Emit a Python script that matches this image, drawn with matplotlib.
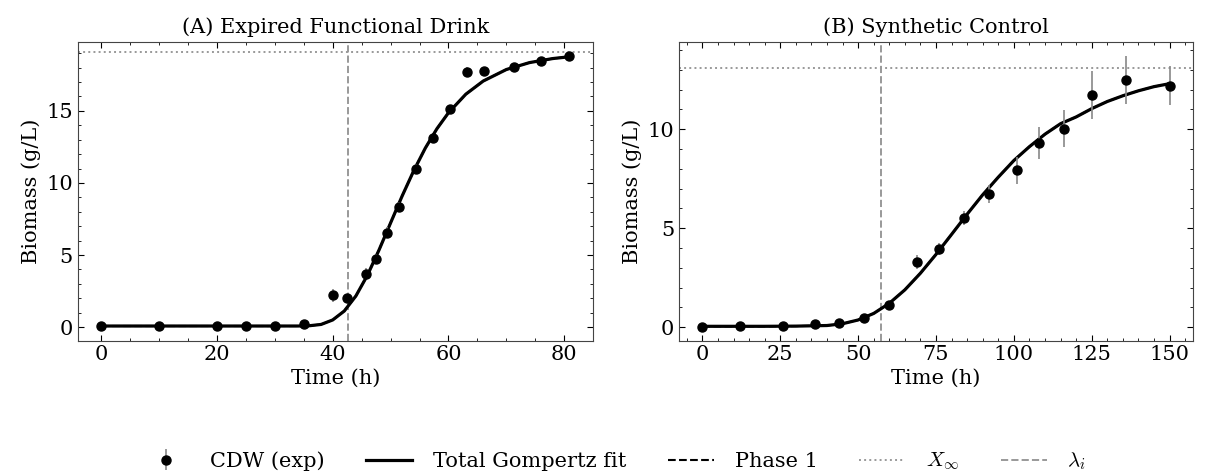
import numpy as np
import matplotlib
matplotlib.use("Agg")
import matplotlib.pyplot as plt
from matplotlib.ticker import MultipleLocator
from matplotlib.lines import Line2D

plt.rcParams['font.family'] = ['DejaVu Serif']
plt.rcParams['mathtext.fontset'] = 'cm'
plt.rcParams['font.size'] = 15

# ---- panel A: expired functional drink ----
a_t = [0, 10, 20, 25, 30, 35, 40, 42.5, 45.7, 47.5, 49.4, 51.4, 54.4, 57.3,
       60.3, 63.2, 66.2, 71.4, 76, 80.9]
a_x = [0.05, 0.05, 0.05, 0.05, 0.05, 0.25, 2.2, 2.0, 3.72, 4.75, 6.55, 8.33,
       11.0, 13.1, 15.15, 17.7, 17.8, 18.03, 18.45, 18.8]
a_err = [0.05, 0.05, 0.05, 0.05, 0.05, 0.15, 0.45, 0.3, 0.35, 0.35, 0.4, 0.35,
         0.3, 0.3, 0.25, 0.35, 0.15, 0.15, 0.15, 0.1]
# fitted curve
a_fit_t = [0, 10, 20, 30, 34, 36, 38, 40, 42, 44, 46, 48, 50, 52, 54, 56, 58,
           60, 63, 66, 70, 74, 78, 81]
a_fit_x = [0.08, 0.08, 0.08, 0.08, 0.08, 0.1, 0.19, 0.5, 1.12, 2.16, 3.6,
           5.35, 7.23, 9.1, 10.85, 12.42, 13.76, 14.87, 16.16, 17.07, 17.87,
           18.35, 18.63, 18.76]
a_xinf = 19.1
a_lag = 42.6

# ---- panel B: synthetic control ----
b_t = [0, 12, 26, 36, 44, 52, 60, 69, 76, 84, 92, 101, 108, 116, 125, 136, 150]
b_x = [0.0, 0.07, 0.07, 0.15, 0.22, 0.49, 1.11, 3.29, 3.97, 5.51, 6.74, 7.92,
       9.31, 10.02, 11.73, 12.49, 12.2]
b_err = [0.05, 0.05, 0.05, 0.05, 0.08, 0.1, 0.12, 0.35, 0.3, 0.34, 0.45, 0.66,
         0.82, 0.94, 1.19, 1.2, 0.98]
b_fit_t = [0, 20, 30, 40, 45, 50, 55, 60, 65, 70, 75, 80, 85, 90, 95, 100,
           105, 110, 115, 120, 125, 130, 135, 140, 145, 150]
b_fit_x = [0.05, 0.05, 0.06, 0.09, 0.18, 0.37, 0.7, 1.21, 1.89, 2.73, 3.68,
           4.69, 5.71, 6.69, 7.58, 8.42, 9.12, 9.75, 10.28, 10.62, 11.04,
           11.4, 11.69, 11.94, 12.15, 12.3]
b_xinf = 13.1
b_lag = 57.3

panels = [
    ("(A) Expired Functional Drink", a_t, a_x, a_err, a_fit_t, a_fit_x, a_xinf, a_lag,
     (-0.93, 19.76), 20, 5),
    ("(B) Synthetic Control", b_t, b_x, b_err, b_fit_t, b_fit_x, b_xinf, b_lag,
     (-0.67, 14.39), 25, 5),
]

fig = plt.figure(figsize=(12.05, 4.75), dpi=100)
boxes = [[0.0645, 0.283, 0.428, 0.628], [0.5635, 0.283, 0.4265, 0.628]]

eb_handle = None
for box, (title, t, x, err, ft, fx, xinf, lag, ylim, xmaj, xmin) in zip(boxes, panels):
    ax = fig.add_axes(box)
    eb = ax.errorbar(t, x, yerr=err, fmt='o', color='black', ecolor='#888888',
                     elinewidth=1.2, markersize=6.5, capsize=0, zorder=3)
    if eb_handle is None:
        eb_handle = eb
    ax.plot(ft, fx, '--', color='black', lw=1.5, zorder=1)   # phase 1 (same as total)
    ax.plot(ft, fx, '-', color='black', lw=2.3, zorder=2)
    ax.axhline(xinf, color='#999999', ls=':', lw=1.4, zorder=0)
    ax.axvline(lag, color='#999999', ls='--', lw=1.4, zorder=0)
    ax.set_ylim(*ylim)
    ax.set_title(title, fontsize=15, pad=7)
    ax.set_xlabel("Time (h)", labelpad=3)
    ax.set_ylabel("Biomass (g/L)")
    ax.xaxis.set_major_locator(MultipleLocator(xmaj))
    ax.xaxis.set_minor_locator(MultipleLocator(xmin))
    ax.yaxis.set_major_locator(MultipleLocator(5))
    ax.yaxis.set_minor_locator(MultipleLocator(1))
    ax.tick_params(which='both', direction='in', top=True, right=True, labelsize=15)
    ax.tick_params(which='major', length=4.5)
    ax.tick_params(which='minor', length=2.3)
    for s in ax.spines.values():
        s.set_color('#444444')

handles = [
    eb_handle,
    Line2D([], [], color='black', lw=2.3),
    Line2D([], [], color='black', lw=1.5, ls='--'),
    Line2D([], [], color='#999999', lw=1.4, ls=':'),
    Line2D([], [], color='#999999', lw=1.4, ls='--'),
]
labels = ["CDW (exp)", "Total Gompertz fit", "Phase 1", r"$X_\infty$", r"$\lambda_i$"]
fig.legend(handles, labels, loc='center', bbox_to_anchor=(0.51, 0.028), ncol=5,
           frameon=False, fontsize=15, columnspacing=2.0, handlelength=2.2,
           handletextpad=1.0)

fig.savefig("out.png", dpi=100)
